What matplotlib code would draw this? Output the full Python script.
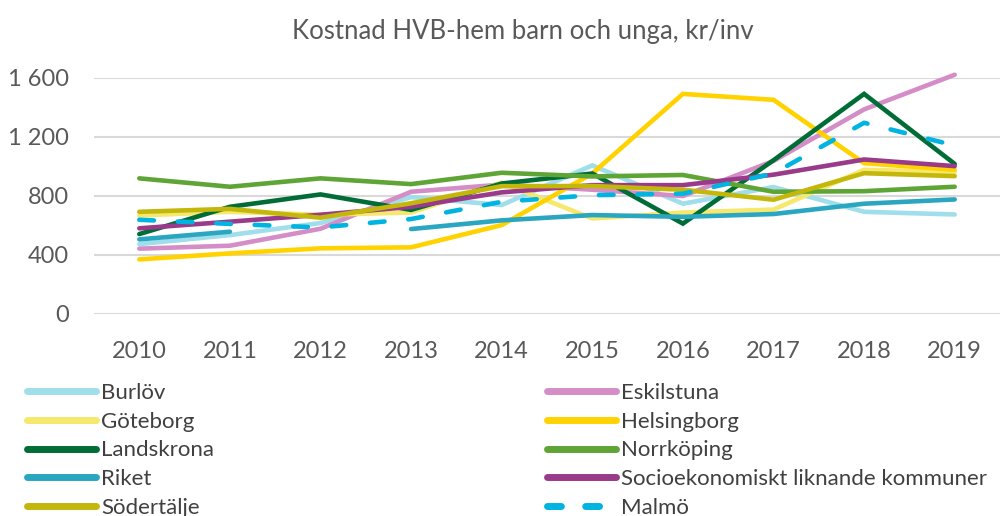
import numpy as np
import matplotlib
matplotlib.use("Agg")
import matplotlib.pyplot as plt
from matplotlib.ticker import FuncFormatter

plt.rcParams['font.family'] = ['Lato', 'DejaVu Sans']

years = ["2010", "2011", "2012", "2013", "2014", "2015", "2016", "2017", "2018", "2019"]

burlov = [471, 532, 614, 790, 736, 1005, 745, 858, 690, 672]
eskilstuna = [440, 460, 575, 826, 875, 840, 797, 1035, 1385, 1620]
goteborg = [665, 690, 670, 685, 888, 645, 685, 705, 975, 960]
helsingborg = [367, 408, 442, 449, 600, 950, 1490, 1450, 1020, 975]
landskrona = [539, 724, 808, 703, 882, 950, 610, 1040, 1490, 1015]
norrkoping = [917, 860, 917, 878, 955, 930, 940, 826, 830, 860]
riket = [503, 555, np.nan, 573, 632, 668, 656, 675, 745, 774]
socio = [578, 623, 670, 724, 822, 871, 871, 942, 1045, 1000]
sodertalje = [690, 710, 650, 748, 864, 865, 840, 772, 952, 932]
malmo = [636, 608, 584, 641, 758, 803, 813, 950, 1294, 1140]

series = [
    ("Burlöv", burlov, "#9fdeea", "-"),
    ("Eskilstuna", eskilstuna, "#d58dc8", "-"),
    ("Göteborg", goteborg, "#f5e86c", "-"),
    ("Helsingborg", helsingborg, "#ffd200", "-"),
    ("Landskrona", landskrona, "#006c36", "-"),
    ("Norrköping", norrkoping, "#5fa535", "-"),
    ("Riket", riket, "#2aa6c1", "-"),
    ("Socioekonomiskt liknande kommuner", socio, "#993a8b", "-"),
    ("Södertälje", sodertalje, "#c4b70c", "-"),
    ("Malmö", malmo, "#00b4e1", "--"),
]

fig = plt.figure(figsize=(10.03, 5.16), dpi=100)
ax = fig.add_axes([94 / 1003, 1 - 313.5 / 516, 906 / 1003, (313.5 - 77.7) / 516])

x = np.arange(len(years))
handles = {}
for name, vals, col, ls in series:
    if ls == "--":
        ln, = ax.plot(x, vals, color=col, lw=3.3, linestyle=(0, (3.2, 5.2)),
                      dash_capstyle='round', solid_capstyle='round', clip_on=False)
    else:
        ln, = ax.plot(x, vals, color=col, lw=3.3, solid_capstyle='round',
                      solid_joinstyle='miter', clip_on=False)
    handles[name] = ln

ax.set_xlim(-0.5, 9.5)
ax.set_ylim(0, 1600)
ax.set_yticks([0, 400, 800, 1200, 1600])
ax.yaxis.set_major_formatter(FuncFormatter(lambda v, p: f"{int(v):,}".replace(",", " ")))
ax.set_xticks(x)
ax.set_xticklabels(years)
ax.grid(axis='y', color='#d9d9d9', lw=1.5)
ax.set_axisbelow(True)
for s in ax.spines.values():
    s.set_visible(False)
ax.tick_params(axis='both', length=0, labelsize=17, labelcolor='#595959')
ax.tick_params(axis='x', pad=20)
ax.tick_params(axis='y', pad=18)

fig.text(523 / 1003, 1 - 31 / 516, "Kostnad HVB-hem barn och unga, kr/inv", ha='center', va='center',
         fontsize=18.5, color='#595959')

left_names = ["Burlöv", "Göteborg", "Landskrona", "Riket", "Södertälje"]
right_names = ["Eskilstuna", "Helsingborg", "Norrköping", "Socioekonomiskt liknande kommuner", "Malmö"]

def make_legend(names, xpx):
    hs = []
    for n in names:
        h = handles[n]
        proxy = matplotlib.lines.Line2D([], [], color=h.get_color(), lw=5,
                                        linestyle=h.get_linestyle(),
                                        solid_capstyle='round', dash_capstyle='round')
        if n == "Malmö":
            proxy.set_dashes((2.0, 3.5))
        hs.append(proxy)
    leg = fig.legend(hs, names, loc='upper left', bbox_to_anchor=(xpx / 1003, 1 - 383 / 516),
                     frameon=False, fontsize=16, handlelength=3.1, handletextpad=0.25,
                     labelspacing=0.39, borderaxespad=0, borderpad=0, labelcolor='#404040')
    return leg

make_legend(left_names, 27)
make_legend(right_names, 547)

fig.savefig("out.png", dpi=100)
